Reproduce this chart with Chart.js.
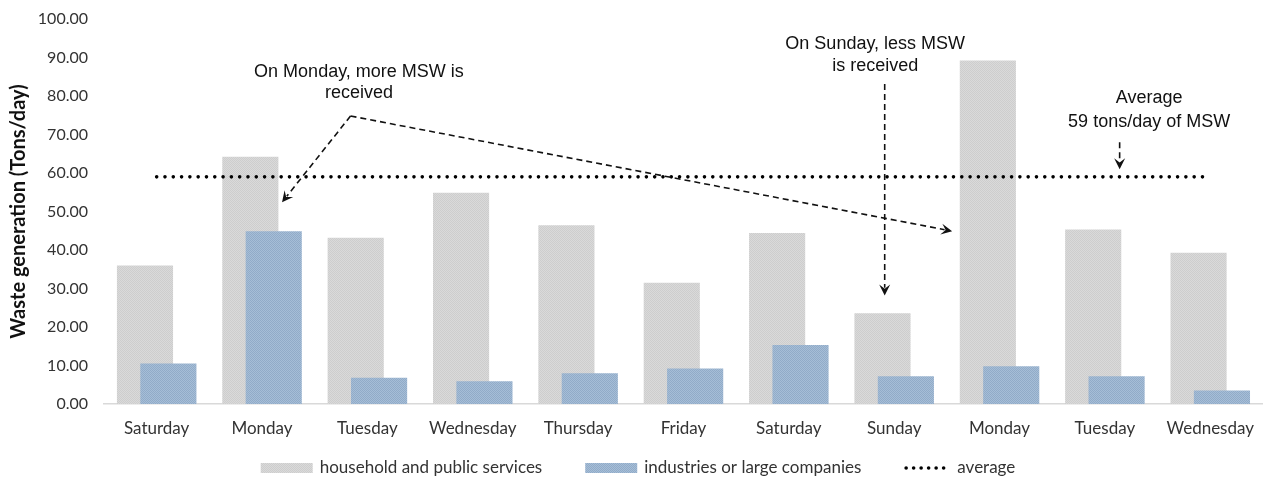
<!DOCTYPE html>
<html lang="en">
<head>
<meta charset="utf-8">
<title>Waste generation</title>
<script src="https://cdn.jsdelivr.net/npm/chart.js@4.4.1/dist/chart.umd.min.js"></script>
<style>
  html, body { margin: 0; padding: 0; background: #ffffff; }
  .chart-box { position: relative; width: 1268px; height: 480px; }
</style>
</head>
<body>
<div class="chart-box"><canvas id="wasteChart"></canvas></div>
<script>
// Datos (toneladas por día)
const dayLabels = ['Saturday', 'Monday', 'Tuesday', 'Wednesday', 'Thursday', 'Friday', 'Saturday', 'Sunday', 'Monday', 'Tuesday', 'Wednesday'];
const householdTons = [36.0, 64.2, 43.2, 54.9, 46.4, 31.5, 44.4, 23.6, 89.2, 45.3, 39.3];
const industryTons = [10.5, 44.9, 6.8, 5.9, 8.0, 9.2, 15.3, 7.2, 9.8, 7.2, 3.5];
const averageTons = [59, 59, 59, 59, 59, 59, 59, 59, 59, 59, 59];
const yTickValues = [0, 10, 20, 30, 40, 50, 60, 70, 80, 90, 100];
const seriesNames = ['household and public services', 'industries or large companies', 'average'];

// Notas del gráfico, en coordenadas de datos (índice de categoría, toneladas)
const noteTexts = [
  { text: 'On Monday, more MSW is', at: [1.92, 86.2] },
  { text: 'received', at: [1.92, 80.8] },
  { text: 'On Sunday, less MSW', at: [6.82, 93.5] },
  { text: 'is received', at: [6.82, 87.8] },
  { text: 'Average', at: [9.42, 79.4] },
  { text: '59 tons/day of MSW', at: [9.42, 73.2] }
];
const noteArrows = [
  [[1.84, 74.8], [1.19, 52.4]],
  [[1.84, 74.8], [7.55, 44.9]],
  [[6.91, 83.1], [6.91, 28.2]],
  [[9.14, 68.0], [9.14, 61.0]]
];

// Relleno punteado tipo Excel
function makePattern(ctx, base, dot) {
  const tile = document.createElement('canvas');
  tile.width = 2;
  tile.height = 2;
  const t = tile.getContext('2d');
  t.fillStyle = base;
  t.fillRect(0, 0, 2, 2);
  t.fillStyle = dot;
  t.fillRect(0, 0, 1, 1);
  t.fillRect(1, 1, 1, 1);
  return ctx.createPattern(tile, 'repeat');
}

const ctx = document.getElementById('wasteChart').getContext('2d');
const grayFill = makePattern(ctx, '#dadada', '#cdcdcd');
const blueFill = makePattern(ctx, '#a6bed7', '#91abc8');

// Las barras azules se dibujan encima de las grises
const frontPlugin = {
  id: 'frontBars',
  beforeDatasetDraw(chart, args) {
    if (args.index === 1) return false;
  },
  afterDatasetsDraw(chart) {
    chart.getDatasetMeta(1).controller.draw();
  }
};

// Textos y flechas discontinuas
const notesPlugin = {
  id: 'notes',
  afterDatasetsDraw(chart) {
    const { ctx, scales: { x, y } } = chart;
    const x0 = x.getPixelForValue(0);
    const step = x.getPixelForValue(1) - x0;
    const toPx = ([i, v]) => [x0 + i * step, y.getPixelForValue(v)];
    ctx.save();
    ctx.fillStyle = '#111';
    ctx.font = '18px "Liberation Sans", Arial, sans-serif';
    ctx.textAlign = 'center';
    ctx.textBaseline = 'middle';
    noteTexts.forEach(n => {
      const [px, py] = toPx(n.at);
      ctx.fillText(n.text, px, py);
    });
    ctx.strokeStyle = '#111';
    ctx.lineWidth = 1.6;
    noteArrows.forEach(path => {
      const pts = path.map(toPx);
      const [tx, ty] = pts[pts.length - 1];
      const [fx, fy] = pts[pts.length - 2];
      const ang = Math.atan2(ty - fy, tx - fx);
      const head = 11;
      ctx.setLineDash([6, 4]);
      ctx.beginPath();
      ctx.moveTo(pts[0][0], pts[0][1]);
      for (let k = 1; k < pts.length - 1; k++) ctx.lineTo(pts[k][0], pts[k][1]);
      ctx.lineTo(tx - Math.cos(ang) * head * 0.7, ty - Math.sin(ang) * head * 0.7);
      ctx.stroke();
      ctx.save();
      ctx.setLineDash([]);
      ctx.translate(tx, ty);
      ctx.rotate(ang);
      ctx.beginPath();
      ctx.moveTo(0, 0);
      ctx.lineTo(-head, -5.5);
      ctx.lineTo(-head * 0.6, 0);
      ctx.lineTo(-head, 5.5);
      ctx.closePath();
      ctx.fill();
      ctx.restore();
    });
    ctx.restore();
  }
};

// Leyenda inferior
const legendPlugin = {
  id: 'bottomLegend',
  afterDraw(chart) {
    const { ctx, width, chartArea } = chart;
    const fills = [grayFill, blueFill, null];
    const swatchW = [52, 52, 41];
    const gaps = [7, 7, 12];
    const itemGap = 43;
    const y = chartArea.bottom + 64;
    ctx.save();
    ctx.font = '17px Lato';
    ctx.textBaseline = 'middle';
    const widths = seriesNames.map(n => ctx.measureText(n).width);
    let total = itemGap * 2;
    seriesNames.forEach((n, i) => { total += swatchW[i] + gaps[i] + widths[i]; });
    let xPos = (width - total) / 2 + 4;
    seriesNames.forEach((name, i) => {
      if (fills[i]) {
        ctx.fillStyle = fills[i];
        ctx.fillRect(xPos, y - 5, swatchW[i], 10);
      } else {
        ctx.fillStyle = '#000';
        for (let k = 0; k < 6; k++) {
          ctx.beginPath();
          ctx.arc(xPos + 1.8 + k * 7.5, y, 1.8, 0, Math.PI * 2);
          ctx.fill();
        }
      }
      xPos += swatchW[i] + gaps[i];
      ctx.fillStyle = '#333';
      ctx.fillText(name, xPos, y);
      xPos += widths[i] + itemGap;
    });
    ctx.restore();
  }
};

const wasteChart = new Chart(ctx, {
  type: 'bar',
  data: {
    labels: dayLabels,
    datasets: [
      {
        label: seriesNames[0],
        data: householdTons,
        backgroundColor: grayFill,
        categoryPercentage: 0.444,
        barPercentage: 2.4,
        order: 1
      },
      {
        label: seriesNames[1],
        data: industryTons,
        backgroundColor: blueFill,
        categoryPercentage: 0.444,
        barPercentage: 2.4,
        order: 1
      },
      {
        type: 'line',
        label: seriesNames[2],
        data: averageTons,
        borderColor: '#000',
        borderWidth: 3.6,
        borderDash: [0, 8.3],
        borderCapStyle: 'round',
        pointRadius: 0,
        fill: false,
        order: 0
      }
    ]
  },
  options: {
    responsive: true,
    maintainAspectRatio: false,
    animation: false,
    layout: { padding: { top: 19, bottom: 40, left: 0, right: 0 } },
    plugins: {
      legend: { display: false },
      tooltip: { enabled: false }
    },
    scales: {
      x: {
        grid: { display: false, drawTicks: false },
        border: { color: '#d9d9d9', width: 1.5 },
        ticks: {
          color: '#333',
          font: { family: 'Lato', size: 17 },
          padding: 14,
          maxRotation: 0,
          autoSkip: false
        },
        afterFit: s => { s.height = 36; }
      },
      y: {
        min: 0,
        max: 100,
        afterBuildTicks: s => { s.ticks = yTickValues.map(v => ({ value: v })); },
        grid: { display: false, drawTicks: false },
        border: { display: false },
        ticks: {
          color: '#333',
          font: { family: 'Lato', size: 16 },
          padding: 16,
          callback: v => v.toFixed(2)
        },
        title: {
          display: true,
          text: 'Waste generation (Tons/day)',
          color: '#111',
          font: { family: 'Lato', size: 20, weight: 'bold' },
          padding: { top: 7, bottom: 0 }
        },
        afterFit: s => {
          s.width = 104;
          s.paddingTop = 0;
          s.paddingBottom = 0;
        }
      }
    }
  },
  plugins: [frontPlugin, notesPlugin, legendPlugin]
});
</script>
</body>
</html>
